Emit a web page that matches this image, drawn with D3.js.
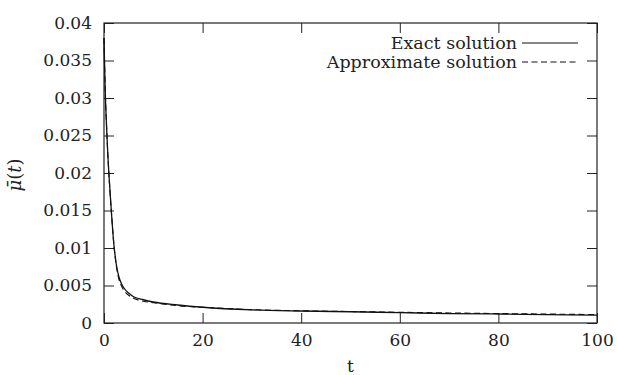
<!DOCTYPE html>
<html>
<head>
<meta charset="utf-8">
<script src="https://cdn.jsdelivr.net/npm/d3@7"></script>
<style>
  body { margin: 0; background: #fff; }
</style>
</head>
<body>
<div id="chart"></div>
<script>
// values
const tValues      = [0, 0.1, 0.25, 0.5, 0.75, 1, 1.5, 2, 2.5, 3, 3.5, 4, 5, 6, 8, 10, 15, 20, 30, 40, 50, 60, 70, 80, 90, 100];
const exactValues  = [0.038, 0.035, 0.031, 0.0265, 0.0228, 0.0198, 0.0148, 0.0105, 0.0078, 0.0062, 0.0053, 0.0047, 0.0040, 0.0035, 0.0031, 0.0028, 0.0024, 0.0021, 0.00175, 0.0016, 0.0015, 0.00138, 0.00126, 0.0012, 0.00112, 0.00106];
const approxValues = [0.038, 0.035, 0.031, 0.0265, 0.0228, 0.0198, 0.0148, 0.0105, 0.0076, 0.0059, 0.0050, 0.0044, 0.0037, 0.0033, 0.0029, 0.0027, 0.0023, 0.0021, 0.00178, 0.00163, 0.00153, 0.00143, 0.00134, 0.00126, 0.00119, 0.00112];
const xTicks = [0, 20, 40, 60, 80, 100];
const yTicks = [0, 0.005, 0.01, 0.015, 0.02, 0.025, 0.03, 0.035, 0.04];
const seriesNames = ['Exact solution', 'Approximate solution'];

const width = 617, height = 375;
const margin = {left: 104, right: 20, top: 23, bottom: 52};
const serif = 'DejaVu Serif';

const svg = d3.select('#chart').append('svg')
  .attr('width', width)
  .attr('height', height);

const x = d3.scaleLinear().domain([0, 100]).range([margin.left, width - margin.right]);
const y = d3.scaleLinear().domain([0, 0.04]).range([height - margin.bottom, margin.top]);

const fmt = d => d === 0 ? '0' : String(+d.toFixed(3));
const tickLen = 10;

const clean = g => g.select('.domain').remove();

// bottom axis with inward ticks
svg.append('g')
  .attr('transform', 'translate(0,' + y(0) + ')')
  .call(d3.axisBottom(x).tickValues(xTicks).tickSize(-tickLen).tickPadding(tickLen + 1).tickFormat(fmt))
  .call(clean);

// top mirror ticks
svg.append('g')
  .attr('transform', 'translate(0,' + y(0.04) + ')')
  .call(d3.axisTop(x).tickValues(xTicks).tickSize(-tickLen).tickFormat(''))
  .call(clean);

// left axis
svg.append('g')
  .attr('transform', 'translate(' + x(0) + ',0)')
  .call(d3.axisLeft(y).tickValues(yTicks).tickSize(-tickLen).tickPadding(tickLen + 2).tickFormat(fmt))
  .call(clean);

// right mirror ticks
svg.append('g')
  .attr('transform', 'translate(' + x(100) + ',0)')
  .call(d3.axisRight(y).tickValues(yTicks).tickSize(-tickLen).tickFormat(''))
  .call(clean);

svg.selectAll('.tick line').attr('stroke', '#222').attr('stroke-width', 1);
svg.selectAll('.tick text')
  .attr('font-family', serif)
  .attr('font-size', 17)
  .attr('fill', '#222');

// frame
svg.append('rect')
  .attr('x', x(0)).attr('y', y(0.04))
  .attr('width', x(100) - x(0)).attr('height', y(0) - y(0.04))
  .attr('fill', 'none').attr('stroke', '#222').attr('stroke-width', 1.2);

const line = d3.line().x(d => x(d[0])).y(d => y(d[1])).curve(d3.curveMonotoneX);

svg.append('path')
  .datum(tValues.map((t, i) => [t, exactValues[i]]))
  .attr('d', line)
  .attr('fill', 'none').attr('stroke', '#111').attr('stroke-width', 1.3);

svg.append('path')
  .datum(tValues.map((t, i) => [t, approxValues[i]]))
  .attr('d', line)
  .attr('fill', 'none').attr('stroke', '#111').attr('stroke-width', 1.1)
  .attr('stroke-dasharray', '6,3.5');

// legend
const legend = svg.append('g');
seriesNames.forEach((name, i) => {
  const ly = 43 + i * 19;
  legend.append('text')
    .attr('x', 517).attr('y', ly + 5.5)
    .attr('text-anchor', 'end')
    .attr('font-family', serif)
    .attr('font-size', 17.5)
    .attr('fill', '#222')
    .text(name);
  legend.append('line')
    .attr('x1', 522).attr('x2', 578)
    .attr('y1', ly).attr('y2', ly)
    .attr('stroke', '#111').attr('stroke-width', 1.2)
    .attr('stroke-dasharray', i === 1 ? '6,3.5' : null);
});

// axis titles
svg.append('text')
  .attr('x', (x(0) + x(100)) / 2).attr('y', 372)
  .attr('text-anchor', 'middle')
  .attr('font-family', serif)
  .attr('font-size', 17)
  .attr('fill', '#222')
  .text('t');

const yl = svg.append('text')
  .attr('transform', 'translate(21,' + (y(0.02) + 2) + ') rotate(-90)')
  .attr('text-anchor', 'middle')
  .attr('font-family', serif)
  .attr('font-size', 18)
  .attr('fill', '#222');
yl.append('tspan').attr('font-style', 'italic').text('\u03BC\u0304');
yl.append('tspan').text('(');
yl.append('tspan').attr('font-style', 'italic').text('t');
yl.append('tspan').text(')');
</script>
</body>
</html>
